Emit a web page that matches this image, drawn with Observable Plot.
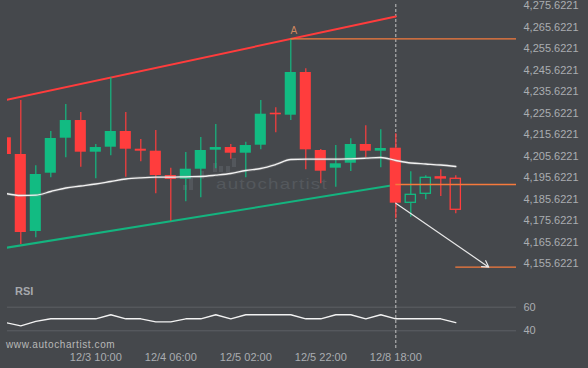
<!DOCTYPE html>
<html><head><meta charset="utf-8">
<script src="https://cdn.jsdelivr.net/npm/d3@7"></script>
<script src="https://cdn.jsdelivr.net/npm/@observablehq/plot@0.6"></script>
<style>
html,body{margin:0;padding:0;background:#45484c;}
#wrap{position:relative;width:588px;height:368px;background:#45484c;overflow:hidden;font-family:"Liberation Sans",Arial,sans-serif;}
#wrap svg{position:absolute;left:0;background:transparent !important;}
.wm{position:absolute;left:216px;top:175px;font-size:15px;color:#54585d;letter-spacing:1px;transform:scaleX(1.25);transform-origin:left top;white-space:nowrap;}
.bar{position:absolute;width:4px;background:#53575c;}
.rsi{position:absolute;left:15px;top:285px;font-size:11px;font-weight:bold;color:#a6a9ad;}
.site{position:absolute;left:6px;top:339px;font-size:10px;color:#b8b8b8;letter-spacing:0.6px;}
</style></head>
<body>
<div id="wrap">
  <div class="bar" style="left:183px;top:185px;height:5px"></div>
  <div class="bar" style="left:189px;top:178px;height:12px"></div>
  <div class="bar" style="left:200px;top:171px;height:8px"></div>
  <div class="bar" style="left:213px;top:163px;height:9px"></div>
  <div class="bar" style="left:219px;top:166px;height:6px"></div>
  <div class="bar" style="left:226px;top:166px;height:6px"></div>
  <div class="bar" style="left:232px;top:158px;height:9px"></div>
  <div class="wm">autochartist</div>
  <div class="rsi">RSI</div>
  <div class="site">www.autochartist.com</div>
</div>
<script>
// ---- data (4H candles, index 0..30) ----
const opens  = [4214.09,4206.32,4170.50,4197.62,4213.90,4222.13,4207.39,4209.71,4217.02,4208.78,4207.85,4196.55,4194.83,4199.48,4208.32,4209.57,4206.92,4210.64,4225.53,4224.60,4244.46,4208.18,4199.95,4202.27,4210.97,4207.85,4209.25,4183.85,4188.04,4195.71,4195.02];
const highs  = [4214.69,4231.43,4201.06,4217.02,4229.57,4225.85,4210.97,4242.00,4225.85,4213.29,4217.48,4199.95,4207.25,4214.22,4220.27,4210.97,4212.04,4231.43,4228.04,4260.00,4246.18,4208.64,4210.50,4213.62,4219.67,4217.81,4215.95,4198.27,4196.41,4199.20,4196.41];
const lows   = [4205.85,4164.46,4167.57,4195.48,4204.78,4200.41,4195.02,4205.71,4195.76,4202.92,4188.04,4175.29,4184.32,4186.18,4199.67,4204.13,4195.48,4208.50,4216.41,4222.13,4199.20,4192.69,4191.11,4198.41,4204.78,4200.13,4176.41,4177.15,4185.25,4186.78,4178.74];
const closes = [4206.32,4170.04,4197.02,4213.76,4222.13,4207.39,4209.57,4217.02,4208.78,4207.85,4196.55,4194.69,4199.48,4208.18,4209.57,4206.92,4210.50,4225.06,4224.78,4244.46,4208.50,4198.55,4201.99,4210.97,4207.85,4209.11,4183.67,4187.57,4195.48,4195.15,4180.60];
const maValues = [4188.18,4187.25,4187.39,4189.11,4190.74,4191.67,4192.60,4193.76,4194.92,4195.48,4195.76,4195.76,4195.95,4196.09,4196.69,4197.48,4198.88,4199.81,4201.67,4203.99,4204.13,4204.13,4204.13,4204.32,4204.60,4204.92,4203.53,4202.36,4201.90,4201.43,4200.74];
const rsiValues = [47.0,44.2,47.9,50.2,50.2,50.2,50.2,53.6,50.2,50.2,47.6,47.6,50.2,50.2,53.6,50.2,53.6,53.6,53.6,53.6,50.2,50.2,53.6,53.6,50.2,53.6,50.2,50.2,50.2,50.2,47.0];
const hollowFrom = 27;          // candles after the signal drawn hollow
const signalIndex = 26;          // 12/8 18:00
const upperChannel = [{i:0, p:4231.70}, {i:26, p:4270.50}];
const lowerChannel = [{i:0, p:4162.91}, {i:26, p:4192.22}];
const levelPrices = [4260.13, 4192.36, 4153.90];
const levelStarts = [19, 26, 30];
const arrowFrom = {i:26, p:4183.67};
const arrowTo   = {i:32.2, p:4153.90};
const yTicks = [4155.6221,4165.6221,4175.6221,4185.6221,4195.6221,4205.6221,4215.6221,4225.6221,4235.6221,4245.6221,4255.6221,4265.6221,4275.6221];
const rsiTicks = [40, 60];
const xTickIdx = [6, 11, 16, 21, 26];
const xTickLabels = ["12/3 10:00","12/4 06:00","12/5 02:00","12/5 22:00","12/8 18:00"];
const xDomain = [0.113, 34.047];

const GREEN = "#12bb82", RED = "#ff3d3d", BG = "#45484c", ORANGE = "#f67a3c";
const candles = opens.map((o, i) => ({i, o, h: highs[i], l: lows[i], c: closes[i], up: closes[i] >= o, hollow: i >= hollowFrom}));
const ma = maValues.map((v, i) => ({i, v}));
const rsi = rsiValues.map((v, i) => ({i, v}));
const levels = levelPrices.map((p, k) => ({p, from: levelStarts[k], to: xDomain[1]}));
const col = d => d.up ? GREEN : RED;
const style = {background: "transparent", color: "#aaadb1", fontSize: "11px", fontFamily: "'Liberation Sans', Arial, sans-serif"};

const main = Plot.plot({
  width: 588, height: 275, marginTop: 4, marginBottom: 0, marginLeft: 7, marginRight: 72,
  x: {domain: xDomain, axis: null},
  y: {domain: [4155.6221, 4275.6221], range: [263, 5], axis: null},
  color: {type: "identity"},
  style,
  marks: [
    Plot.axisY({anchor: "right", ticks: yTicks, tickSize: 0, tickPadding: 7, label: null, tickFormat: d3.format(",.4f")}),
    Plot.ruleX([signalIndex], {stroke: "#c4c4c4", strokeWidth: 1, strokeDasharray: "3,2"}),
    Plot.line(upperChannel, {x: "i", y: "p", stroke: "#ff3c3c", strokeWidth: 2, clip: true}),
    Plot.line(lowerChannel, {x: "i", y: "p", stroke: "#14b47f", strokeWidth: 2, clip: true}),
    Plot.ruleX(candles, {x: "i", y1: "l", y2: "h", stroke: col, strokeWidth: 1.2, clip: true}),
    Plot.rect(candles.filter(d => !d.hollow), {x1: d => d.i - 0.37, x2: d => d.i + 0.37, y1: "o", y2: "c", fill: col, clip: true}),
    Plot.rect(candles.filter(d => d.hollow), {x1: d => d.i - 0.34, x2: d => d.i + 0.34, y1: "o", y2: "c", fill: BG, stroke: col, strokeWidth: 1.3}),
    Plot.line(ma, {x: "i", y: "v", stroke: "#a0a0a0", strokeOpacity: 0.3, strokeWidth: 3, curve: "monotone-x", clip: true}),
    Plot.line(ma, {x: "i", y: "v", stroke: "#f2f2f2", strokeWidth: 1.3, curve: "monotone-x", clip: true}),
    Plot.ruleY(levels, {y: "p", x1: "from", x2: "to", stroke: ORANGE, strokeWidth: 1.3}),
    Plot.arrow([{a: arrowFrom, b: arrowTo}], {x1: d => d.a.i, y1: d => d.a.p, x2: d => d.b.i, y2: d => d.b.p, stroke: "#e8e8e8", strokeWidth: 1.2, headLength: 9}),
    Plot.text([candles[19]], {x: "i", y: "h", text: () => "A", dy: -8, dx: 3, fill: "#d0875e", fontSize: 10})
  ]
});

const rsiPlot = Plot.plot({
  width: 588, height: 93, marginTop: 0, marginBottom: 18, marginLeft: 7, marginRight: 72,
  x: {domain: xDomain, axis: null},
  y: {domain: [40, 60], range: [55.3, 31.7], axis: null},
  style,
  marks: [
    Plot.ruleY(rsiTicks, {stroke: "#5d6065", strokeWidth: 1}),
    Plot.axisY({anchor: "right", ticks: rsiTicks, tickSize: 0, tickPadding: 7, label: null}),
    Plot.axisX({anchor: "bottom", ticks: xTickIdx, tickSize: 0, tickPadding: 3, label: null, tickFormat: d => xTickLabels[xTickIdx.indexOf(d)]}),
    Plot.ruleX([signalIndex], {stroke: "#c4c4c4", strokeWidth: 1, strokeDasharray: "3,2"}),
    Plot.line(rsi, {x: "i", y: "v", stroke: "#f2f2f2", strokeWidth: 1.3, clip: true})
  ]
});

const wrap = document.getElementById("wrap");
main.style.top = "0px";
rsiPlot.style.top = "275px";
wrap.appendChild(main);
wrap.appendChild(rsiPlot);
</script>
</body></html>
